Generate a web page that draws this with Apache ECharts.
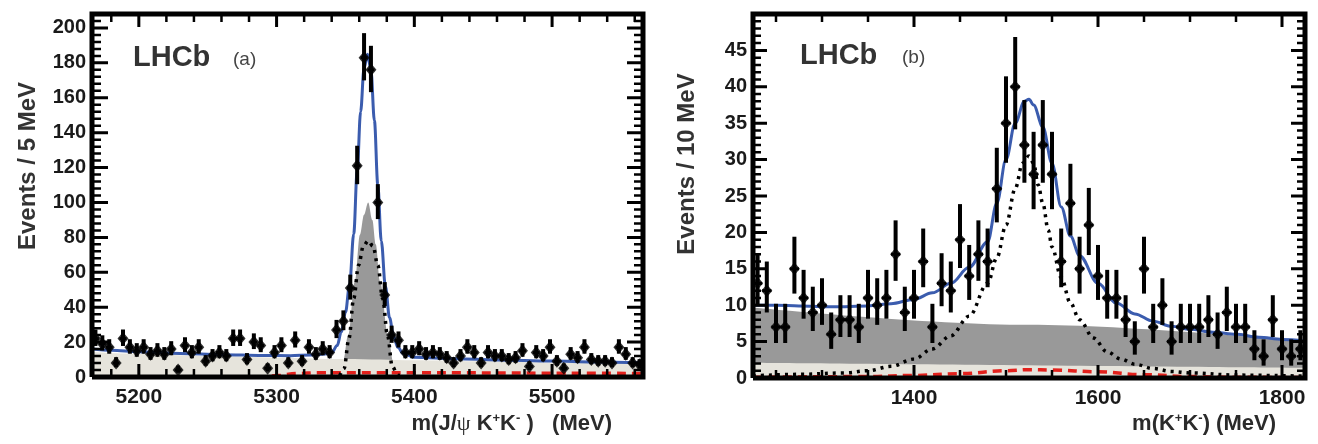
<!DOCTYPE html>
<html>
<head>
<meta charset="utf-8">
<script src="https://cdn.jsdelivr.net/npm/echarts@6.0.0/dist/echarts.min.js"></script>
<style>
  html, body { margin: 0; padding: 0; background: #fff; }
  #chart { width: 1318px; height: 444px; }
</style>
</head>
<body>
<div id="chart"></div>
<script>
// ---- panel (a): m(J/psi K+K-), 5 MeV bins from 5166 MeV
const firstBinA = 5168.5;
const binWidthA = 5;
const countsA = [22, 19, 17, 8, 22, 17, 15, 17, 13, 15,
                 13, 16, 4, 18, 14, 17, 9, 12, 14, 12,
                 22, 22, 10, 20, 18, 5, 14, 18, 8, 21,
                 9, 17, 13, 16, 14, 27, 32, 51, 121, 183,
                 176, 100, 47, 24, 21, 14, 14, 16, 13, 14,
                 13, 11, 8, 12, 17, 14, 8, 14, 12, 12,
                 10, 11, 15, 6, 14, 12, 17, 9, 5, 13,
                 11, 17, 10, 9, 9, 8, 17, 13, 8, 7];

// fit components (a)
const totalA_m = [5166, 5180, 5200, 5230, 5260, 5290, 5310, 5325, 5335, 5340, 5344, 5347, 5350, 5353, 5356, 5358.5, 5361, 5363.5, 5366, 5368.5, 5371, 5373.5, 5376, 5379, 5382, 5385, 5388, 5392, 5400, 5430, 5460, 5500, 5530, 5566];
const totalA_y = [16, 15.3, 14.5, 13.5, 12.8, 12.3, 12.2, 12.6, 13.2, 14, 18, 26, 37, 53, 82, 118, 152, 177, 185, 176, 147, 110, 78, 52, 34, 23, 17, 13.5, 11.3, 10.4, 9.8, 9.1, 8.6, 8.1];
const greyA_m = [5338, 5343, 5348.3, 5352, 5356.9, 5360.5, 5363.5, 5366.5, 5369.5, 5372, 5375, 5381, 5384.6, 5390, 5395];
const greyA_y = [0, 2, 9, 24, 55, 81.5, 93, 100, 90, 76, 55, 24, 9, 2, 0];
const sigA_m = [5340, 5345, 5349, 5352.5, 5356, 5359.5, 5363, 5366.5, 5370, 5373.5, 5377, 5380.5, 5384, 5388, 5393];
const sigA_y = [0, 0.5, 5, 22, 45, 64, 75, 78, 75, 64, 45, 24, 6, 1, 0];
const combA_m = [5166, 5200, 5250, 5300, 5350, 5400, 5450, 5500, 5566];
const combA_y = [14.3, 13.2, 12, 11.1, 10.3, 9.6, 9, 8.3, 7.6];
const redA_m = [5166, 5290, 5300, 5315, 5330, 5400, 5500, 5566];
const redA_y = [0, 0, 0.8, 2, 2.5, 2.5, 2.2, 2];

// ---- panel (b): m(K+K-), 10 MeV bins from 1225 MeV
const firstBinB = 1230;
const binWidthB = 10;
const countsB = [13, 12, 7, 7, 15, 11, 9, 10, 6, 8,
                 8, 7, 11, 10, 11, 17, 9, 11, 16, 7,
                 13, 12, 19, 14, 17, 16, 26, 35, 40, 32,
                 28, 32, 28, 16, 24, 15, 21, 14, 11, 11,
                 8, 5, 15, 7, 10, 5, 7, 7, 7, 8,
                 6, 9, 7, 7, 4, 3, 8, 4, 3, 4];

const totalB_m = [1225, 1250, 1275, 1300, 1325, 1350, 1375, 1400, 1420, 1440, 1460, 1480, 1490, 1500, 1510, 1520, 1525, 1530, 1540, 1550, 1560, 1570, 1580, 1600, 1620, 1640, 1660, 1680, 1700, 1725, 1750, 1775, 1800, 1825];
const totalB_y = [10, 10, 9.9, 9.8, 9.8, 9.9, 10.2, 10.8, 11.7, 13, 15.2, 18.7, 24, 30, 35, 38, 38.3, 37.5, 34.5, 29.5, 23.5, 19.5, 16.8, 13, 10.3, 8.8, 7.8, 7.1, 6.7, 6.3, 6, 5.6, 5.3, 5.1];
const sigB_m = [1225, 1275, 1325, 1350, 1375, 1400, 1420, 1440, 1460, 1480, 1490, 1500, 1510, 1518, 1525, 1530, 1535, 1540, 1546, 1550, 1560, 1570, 1580, 1595, 1610, 1625, 1640, 1660, 1680, 1700, 1750, 1825];
const sigB_y = [0.3, 0.5, 0.7, 1.0, 1.6, 2.6, 4, 5.8, 8.5, 13, 16.5, 21, 26, 29.5, 30.5, 29.5, 26.5, 24, 20.3, 18, 13.8, 10.3, 8, 5.5, 3.6, 2.6, 1.9, 1.3, 0.9, 0.7, 0.4, 0.25];
const greyB_m = [1225, 1525, 1825];
const greyB_y = [9.7, 7.3, 5.0];
const lightB_m = [1225, 1825];
const lightB_y = [2.1, 1.4];
const redB_m = [1225, 1350, 1400, 1450, 1500, 1525, 1550, 1600, 1650, 1700, 1750, 1825];
const redB_y = [0.1, 0.2, 0.35, 0.6, 1.0, 1.15, 1.1, 0.85, 0.45, 0.2, 0.1, 0.05];

// tick values
const xLabelsA = [5200, 5300, 5400, 5500];
const xMinorA = [5180, 5220, 5240, 5260, 5280, 5320, 5340, 5360, 5380, 5420, 5440, 5460, 5480, 5520, 5540, 5560];
const yLabelsA = [0, 20, 40, 60, 80, 100, 120, 140, 160, 180, 200];
const xLabelsB = [1400, 1600, 1800];
const xMinorB = [1250, 1300, 1350, 1450, 1500, 1550, 1650, 1700, 1750];
const yLabelsB = [0, 5, 10, 15, 20, 25, 30, 35, 40, 45];

const rangeA = { x: [5166, 5566], y: [0, 208] };
const rangeB = { x: [1225, 1825], y: [0, 50] };
const gridA = { left: 92, top: 14, width: 551, height: 363 };
const gridB = { left: 753, top: 14, width: 552, height: 364 };

const FONT = '"Liberation Sans", Arial, Helvetica, sans-serif';

function pairs(xs, ys) { return xs.map((x, i) => [x, ys[i]]); }
// poisson-ish error bars
function points(first, width, counts) {
  return counts.map((n, i) => {
    const m = first + i * width;
    const e = Math.sqrt(n + 0.25);
    return [m, n + 0.5 - e, n + 0.5 + e, n];
  });
}
function minorSteps(range, step, majors) {
  const out = [];
  for (let v = range[0] + step; v < range[1] - 1e-9; v += step) {
    if (!majors.includes(v)) out.push(v);
  }
  return out;
}

// tick segments as one broken polyline (NaN breaks the line), lengths given in pixels
function tickLine(range, grid, xs, ys, lenX, lenY) {
  const ux = (range.x[1] - range.x[0]) / grid.width;
  const uy = (range.y[1] - range.y[0]) / grid.height;
  const d = [];
  const gap = [NaN, NaN];
  xs.forEach(v => {
    d.push([v, range.y[0]], [v, range.y[0] + lenX * uy], gap);
    d.push([v, range.y[1]], [v, range.y[1] - lenX * uy], gap);
  });
  ys.forEach(v => {
    d.push([range.x[0], v], [range.x[0] + lenY * ux, v], gap);
    d.push([range.x[1], v], [range.x[1] - lenY * ux, v], gap);
  });
  return d;
}
function frameLine(range) {
  return [[range.x[0], range.y[0]], [range.x[1], range.y[0]], [range.x[1], range.y[1]],
          [range.x[0], range.y[1]], [range.x[0], range.y[0]]];
}

const labelStyle = { color: '#1a1a1a', fontFamily: FONT, fontWeight: 'bold' };

function xAxisFor(gi, range, labels) {
  return {
    type: 'value', gridIndex: gi, min: range.x[0], max: range.x[1],
    splitLine: { show: false }, axisLine: { show: false }, axisTick: { show: false },
    axisLabel: Object.assign({ customValues: labels, fontSize: 21, margin: 10, formatter: v => String(v) }, labelStyle)
  };
}
function yAxisFor(gi, range, labels) {
  return {
    type: 'value', gridIndex: gi, min: range.y[0], max: range.y[1],
    splitLine: { show: false }, axisLine: { show: false }, axisTick: { show: false },
    axisLabel: Object.assign({ customValues: labels, fontSize: 20, margin: 6, formatter: v => String(v) }, labelStyle)
  };
}

function errorRender(width) {
  return function (params, api) {
    const m = api.value(0), lo = api.value(1), hi = api.value(2), n = api.value(3);
    const a = api.coord([m, lo]), b = api.coord([m, hi]);
    const l = api.coord([m - width / 2, n]), r = api.coord([m + width / 2, n]);
    return {
      type: 'group',
      children: [
        { type: 'line', shape: { x1: a[0], y1: a[1], x2: b[0], y2: b[1] }, style: { stroke: '#000', lineWidth: 4 } },
        { type: 'line', shape: { x1: l[0], y1: l[1], x2: r[0], y2: r[1] }, style: { stroke: '#000', lineWidth: 3 } }
      ]
    };
  };
}

function panelSeries(gi, parts) {
  const ln = (data, style, extra) => Object.assign({
    type: 'line', xAxisIndex: gi, yAxisIndex: gi, data: data, symbol: 'none',
    smooth: 0.35, smoothMonotone: 'x', animation: false, lineStyle: style
  }, extra || {});
  const edge = (data, width, z) => ({
    type: 'line', xAxisIndex: gi, yAxisIndex: gi, data: data, symbol: 'none', smooth: false,
    connectNulls: false, clip: false, silent: true, animation: false, z: z,
    lineStyle: { color: '#000', width: width, cap: 'butt', join: 'miter' }
  });
  return [
    ln(parts.grey, { width: 0 }, { areaStyle: { color: '#999999', opacity: 1 }, z: 1 }),
    ln(parts.light, { width: 0 }, { areaStyle: { color: '#e6e4dc', opacity: 1 }, z: 2 }),
    ln(parts.red, { color: '#e3211c', width: 3.5, type: [9, 6] }, { z: 3 }),
    ln(parts.sig, { color: '#000', width: 3.5, type: [3, 5], cap: 'butt' }, { z: 4 }),
    ln(parts.total, { color: '#3b5cae', width: 3 }, { z: 5 }),
    { type: 'custom', xAxisIndex: gi, yAxisIndex: gi, data: parts.pts, renderItem: errorRender(parts.bw), animation: false, z: 6 },
    { type: 'scatter', xAxisIndex: gi, yAxisIndex: gi, data: parts.pts.map(p => [p[0], p[3]]),
      symbol: 'diamond', symbolSize: [11, 13], itemStyle: { color: '#000' }, animation: false, z: 7 },
    edge(parts.majorTicks, 3, 8),
    edge(parts.minorTicks, 2.5, 8),
    edge(parts.frame, 5, 9)
  ];
}

const chart = echarts.init(document.getElementById('chart'), null, { renderer: 'canvas' });

chart.setOption({
  animation: false,
  grid: [gridA, gridB],
  xAxis: [xAxisFor(0, rangeA, xLabelsA), xAxisFor(1, rangeB, xLabelsB)],
  yAxis: [yAxisFor(0, rangeA, yLabelsA), yAxisFor(1, rangeB, yLabelsB)],
  series: [].concat(
    panelSeries(0, {
      grey: pairs(greyA_m, greyA_y), light: pairs(combA_m, combA_y), red: pairs(redA_m, redA_y),
      sig: pairs(sigA_m, sigA_y), total: pairs(totalA_m, totalA_y),
      pts: points(firstBinA, binWidthA, countsA), bw: binWidthA,
      majorTicks: tickLine(rangeA, gridA, xLabelsA, yLabelsA, 13, 16),
      minorTicks: tickLine(rangeA, gridA, xMinorA, minorSteps(rangeA.y, 4, yLabelsA), 8, 9),
      frame: frameLine(rangeA)
    }),
    panelSeries(1, {
      grey: pairs(greyB_m, greyB_y), light: pairs(lightB_m, lightB_y), red: pairs(redB_m, redB_y),
      sig: pairs(sigB_m, sigB_y), total: pairs(totalB_m, totalB_y),
      pts: points(firstBinB, binWidthB, countsB), bw: binWidthB,
      majorTicks: tickLine(rangeB, gridB, xLabelsB, yLabelsB, 13, 14),
      minorTicks: tickLine(rangeB, gridB, xMinorB, minorSteps(rangeB.y, 1, yLabelsB), 8, 8),
      frame: frameLine(rangeB)
    })
  )
});

const sub = { fontSize: 13, fontWeight: 'bold', fontFamily: FONT, fill: '#2b2b2b', verticalAlign: 'top', lineHeight: 12 };
const nrm = { fontSize: 22, fontWeight: 'bold', fontFamily: FONT, fill: '#2b2b2b', lineHeight: 24 };

chart.setOption({
  graphic: [
    { type: 'text', x: 133, y: 58, style: { text: 'LHCb', font: 'bold 29px ' + FONT, fill: '#333', verticalAlign: 'middle' } },
    { type: 'text', x: 233, y: 60, style: { text: '(a)', font: '19px ' + FONT, fill: '#444', verticalAlign: 'middle' } },
    { type: 'text', x: 800, y: 56, style: { text: 'LHCb', font: 'bold 29px ' + FONT, fill: '#333', verticalAlign: 'middle' } },
    { type: 'text', x: 902, y: 58, style: { text: '(b)', font: '19px ' + FONT, fill: '#444', verticalAlign: 'middle' } },
    { type: 'text', x: 28, y: 166, rotation: Math.PI / 2,
      style: { text: 'Events / 5 MeV', font: 'bold 24px ' + FONT, fill: '#333', align: 'center', verticalAlign: 'middle' } },
    { type: 'text', x: 687, y: 164, rotation: Math.PI / 2,
      style: { text: 'Events / 10 MeV', font: 'bold 24px ' + FONT, fill: '#333', align: 'center', verticalAlign: 'middle' } },
    { type: 'text', x: 612, y: 424,
      style: {
        text: '{n|m(J/}{g|ψ}{n| K}{s|+}{n|K}{s|-}{n| )   (MeV)}', align: 'right', verticalAlign: 'middle',
        rich: { n: nrm, s: sub, g: { fontSize: 22, fontFamily: '"Liberation Serif", serif', fill: '#2b2b2b', lineHeight: 24 } }
      } },
    { type: 'text', x: 1276, y: 424,
      style: {
        text: '{n|m(K}{s|+}{n|K}{s|-}{n|) (MeV)}', align: 'right', verticalAlign: 'middle',
        rich: { n: nrm, s: sub }
      } }
  ]
});
</script>
</body>
</html>
